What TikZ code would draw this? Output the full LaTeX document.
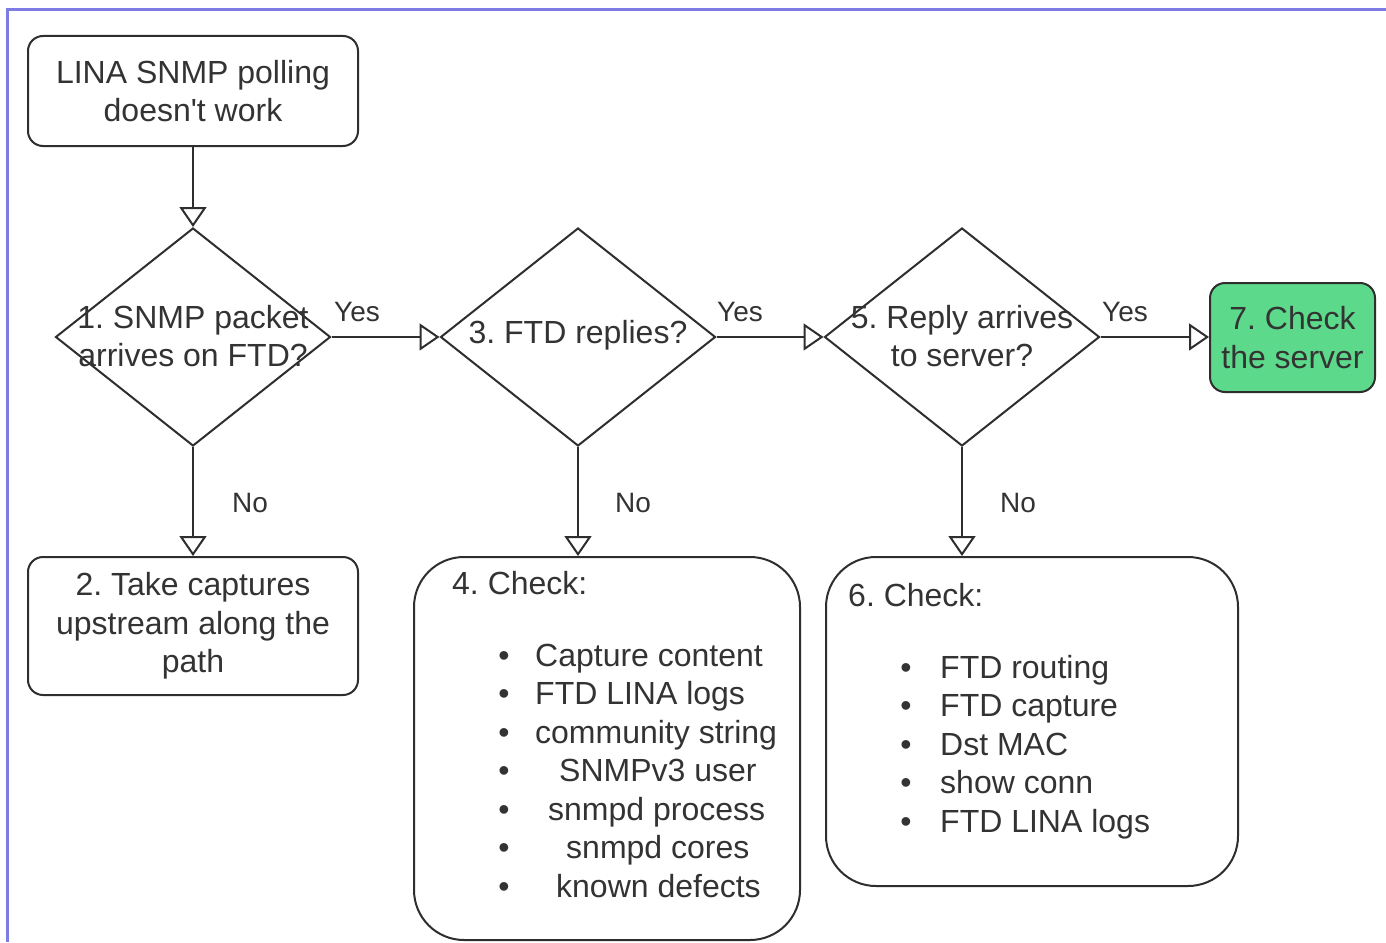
\documentclass[tikz,border=0pt]{standalone}
\usepackage{fontspec}
\setmainfont{Liberation Sans}
\usetikzlibrary{shapes.geometric,arrows.meta}
\definecolor{txt}{HTML}{333333}
\definecolor{ln}{HTML}{2E2E2E}
\definecolor{bord}{HTML}{7C7CE4}
\definecolor{grn}{HTML}{5CD98A}
\frenchspacing
\begin{document}
\begin{tikzpicture}[x=1pt,y=-1pt,
 every node/.style={text=txt, font=\fontsize{32}{38.5}\selectfont},
 box/.style={draw=ln, line width=2pt, rounded corners=15pt, align=center, inner sep=0pt},
 bigbox/.style={draw=ln, line width=2pt, rounded corners=50pt, inner sep=0pt},
 dia/.style={draw=ln, line width=2pt, diamond, inner sep=0pt, minimum width=275pt, minimum height=218pt},
 dtext/.style={align=center, inner sep=0pt},
 flow/.style={draw=ln, line width=2pt, -{Triangle[open, length=20pt, width=27pt, line width=2pt]}},
 lbl/.style={font=\fontsize{28}{32}\selectfont, anchor=base, inner sep=0pt},
 item/.style={anchor=base west, inner sep=0pt},
 bul/.style={anchor=base, inner sep=0pt}
]
\useasboundingbox (0,0) rectangle (1386,942);
\fill[white] (0,0) rectangle (1386,942);
\draw[bord, line width=3pt] (7.5,942) -- (7.5,9.5) -- (1386,9.5);

% top box
\node[box, minimum width=330pt, minimum height=110pt] (start) at (193,91) {LINA SNMP polling\\doesn\textquotesingle t work};

% diamonds
\node[dia] (d1) at (193,337) {};
\node[dtext] (t1) at (193,336) {1. SNMP packet\\arrives on FTD?};
\node[dia] (d3) at (578,337) {};
\node[dtext] (t3) at (578,335) {3. FTD replies?};
\node[dia] (d5) at (962,337) {};
\node[dtext] (t5) at (962,336) {5. Reply arrives\\to server?};

% green box
\node[box, fill=grn, minimum width=165pt, minimum height=109pt] (s7) at (1292.5,337.5) {7. Check\\the server};

% box 2
\node[box, minimum width=330pt, minimum height=138pt] (s2) at (193,626) {2. Take captures\\upstream along the\\path};

% box 4
\node[bigbox, minimum width=386pt, minimum height=383pt] (s4) at (607,748.5) {};
\node[item] (h4) at (452,594.5) {4. Check:};
\node[bul] (b41) at (504,666) {\textbullet};
\node[item] (i41) at (535,666) {Capture content};
\node[bul] (b42) at (504,704.5) {\textbullet};
\node[item] (i42) at (535,704.5) {FTD LINA logs};
\node[bul] (b43) at (504,743) {\textbullet};
\node[item] (i43) at (535,743) {community string};
\node[bul] (b44) at (504,781.5) {\textbullet};
\node[item] (i44) at (559,781.5) {SNMPv3 user};
\node[bul] (b45) at (504,820) {\textbullet};
\node[item] (i45) at (548,820) {snmpd process};
\node[bul] (b46) at (504,858.5) {\textbullet};
\node[item] (i46) at (566,858.5) {snmpd cores};
\node[bul] (b47) at (504,897) {\textbullet};
\node[item] (i47) at (556,897) {known defects};

% box 6
\node[bigbox, minimum width=412pt, minimum height=329pt] (s6) at (1032,721.5) {};
\node[item] (h6) at (848,606.5) {6. Check:};
\node[bul] (b61) at (906,678) {\textbullet};
\node[item] (i61) at (940,678) {FTD routing};
\node[bul] (b62) at (906,716.5) {\textbullet};
\node[item] (i62) at (940,716.5) {FTD capture};
\node[bul] (b63) at (906,755) {\textbullet};
\node[item] (i63) at (940,755) {Dst MAC};
\node[bul] (b64) at (906,793.5) {\textbullet};
\node[item] (i64) at (940,793.5) {show conn};
\node[bul] (b65) at (906,832) {\textbullet};
\node[item] (i65) at (940,832) {FTD LINA logs};

% connectors
\draw[flow] (start.south) -- (d1.north);
\draw[flow] (d1.east) -- (d3.west);
\draw[flow] (d3.east) -- (d5.west);
\draw[flow] (d5.east) -- (d5.east -| s7.west);
\draw[flow] (d1.south) -- (s2.north);
\draw[flow] (d3.south) -- (d3.south |- s4.north);
\draw[flow] (d5.south) -- (d5.south |- s6.north);

% labels
\node[lbl] (y1) at (357,321) {Yes};
\node[lbl] (y3) at (740,321) {Yes};
\node[lbl] (y5) at (1125,321) {Yes};
\node[lbl] (n1) at (250,512) {No};
\node[lbl] (n3) at (633,512) {No};
\node[lbl] (n5) at (1018,512) {No};
\end{tikzpicture}
\end{document}
